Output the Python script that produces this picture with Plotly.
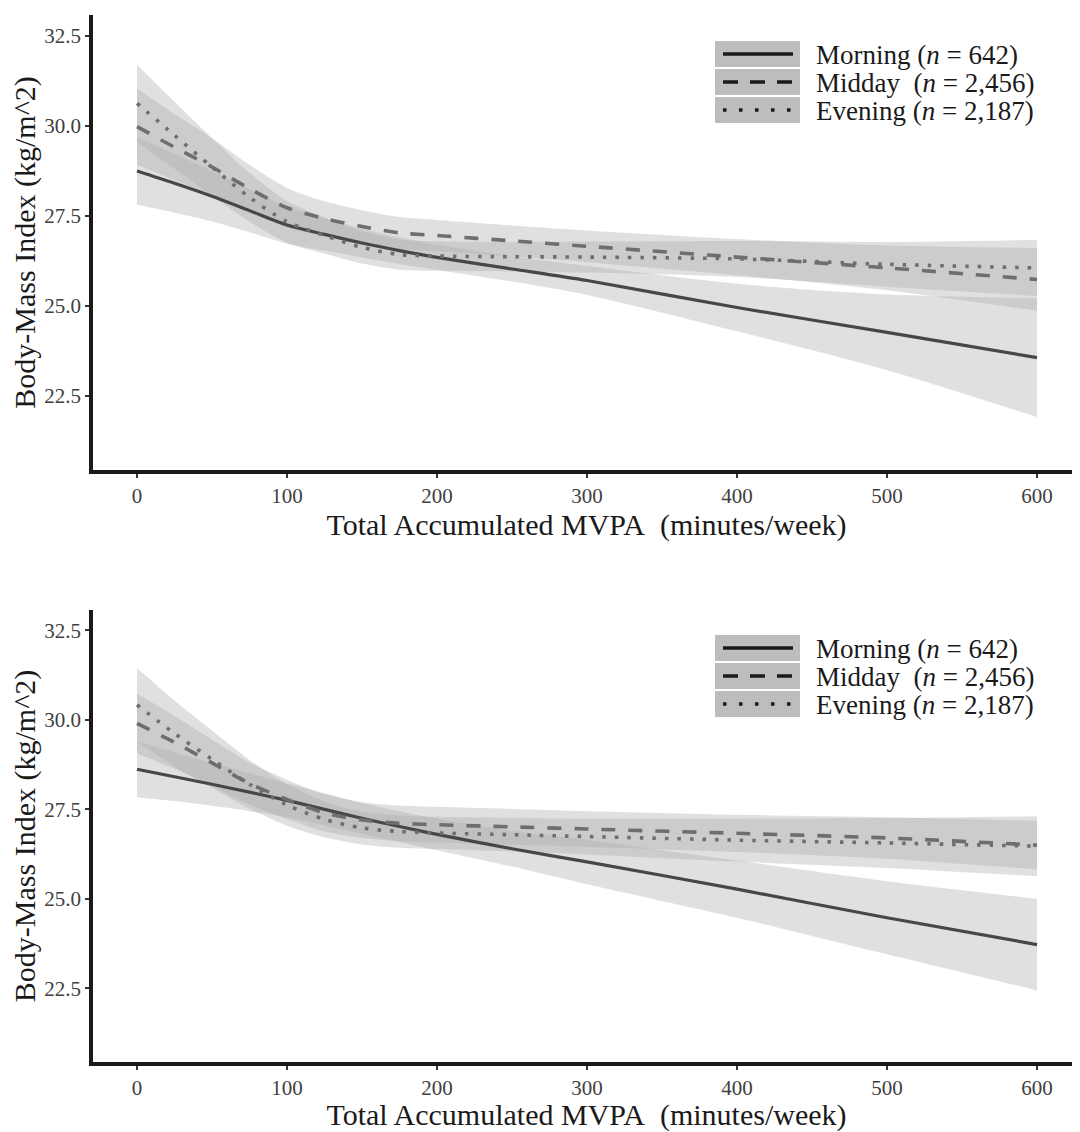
import plotly.graph_objects as go
from plotly.subplots import make_subplots

# ---------------- data ----------------
mvpa = [0, 25, 50, 75, 100, 125, 150, 175, 200, 250, 300, 400, 500, 600]

# Panel 1 (top)
top_morning = [28.74, 28.40, 28.04, 27.64, 27.24, 26.98, 26.74, 26.53, 26.34, 26.02, 25.70, 24.95, 24.26, 23.56]
top_morning_lo = [27.80, 27.58, 27.34, 27.04, 26.72, 26.53, 26.34, 26.16, 25.99, 25.67, 25.30, 24.29, 23.21, 21.91]
top_morning_hi = [29.68, 29.22, 28.74, 28.24, 27.76, 27.43, 27.14, 26.90, 26.69, 26.37, 26.10, 25.61, 25.31, 25.21]

top_midday = [29.97, 29.40, 28.85, 28.25, 27.72, 27.42, 27.20, 27.02, 26.95, 26.80, 26.65, 26.35, 26.05, 25.73]
top_midday_lo = [28.91, 28.48, 28.05, 27.59, 27.17, 26.94, 26.75, 26.58, 26.52, 26.37, 26.21, 25.85, 25.43, 24.86]
top_midday_hi = [31.03, 30.32, 29.65, 28.91, 28.27, 27.90, 27.65, 27.46, 27.38, 27.23, 27.09, 26.85, 26.67, 26.60]

top_evening = [30.62, 29.73, 28.85, 28.01, 27.33, 26.95, 26.62, 26.42, 26.38, 26.36, 26.35, 26.30, 26.15, 26.05]
top_evening_lo = [29.55, 28.80, 28.05, 27.33, 26.75, 26.45, 26.17, 26.00, 25.97, 25.95, 25.92, 25.80, 25.53, 25.27]
top_evening_hi = [31.69, 30.66, 29.65, 28.69, 27.91, 27.45, 27.07, 26.84, 26.79, 26.77, 26.78, 26.80, 26.77, 26.83]

# Panel 2 (bottom)
bot_morning = [28.62, 28.41, 28.20, 27.98, 27.75, 27.50, 27.25, 27.02, 26.80, 26.40, 26.03, 25.27, 24.47, 23.72]
bot_morning_lo = [27.84, 27.73, 27.60, 27.45, 27.27, 27.05, 26.82, 26.59, 26.36, 25.90, 25.41, 24.47, 23.45, 22.44]
bot_morning_hi = [29.40, 29.09, 28.80, 28.51, 28.23, 27.95, 27.68, 27.45, 27.24, 26.90, 26.65, 26.07, 25.49, 25.00]

bot_midday = [29.90, 29.37, 28.80, 28.22, 27.78, 27.40, 27.20, 27.11, 27.07, 27.01, 26.95, 26.83, 26.70, 26.50]
bot_midday_lo = [29.06, 28.63, 28.15, 27.63, 27.23, 26.88, 26.70, 26.61, 26.57, 26.51, 26.45, 26.31, 26.12, 25.82]
bot_midday_hi = [30.74, 30.11, 29.45, 28.81, 28.33, 27.92, 27.70, 27.61, 27.57, 27.51, 27.45, 27.35, 27.28, 27.18]

bot_evening = [30.42, 29.62, 28.90, 28.20, 27.62, 27.22, 26.98, 26.88, 26.84, 26.79, 26.74, 26.64, 26.56, 26.47]
bot_evening_lo = [29.39, 28.70, 28.10, 27.52, 27.04, 26.72, 26.52, 26.43, 26.39, 26.32, 26.24, 26.04, 25.86, 25.63]
bot_evening_hi = [31.45, 30.54, 29.70, 28.88, 28.20, 27.72, 27.44, 27.33, 27.29, 27.26, 27.24, 27.24, 27.26, 27.31]

group_labels = [
    "Morning (<i>n</i> = 642)",
    "Midday\u00a0 (<i>n</i> = 2,456)",
    "Evening (<i>n</i> = 2,187)",
]
x_ticks = [0, 100, 200, 300, 400, 500, 600]
y_ticks = [22.5, 25.0, 27.5, 30.0, 32.5]
x_title = "Total Accumulated MVPA\u00a0 (minutes/week)"
y_title = "Body-Mass Index (kg/m^2)"

# ---------------- styles ----------------
FONT = "Liberation Serif"
RIBBON = "rgba(170,170,170,0.37)"
line_styles = [
    dict(color="#474747", width=3.2, dash="solid"),
    dict(color="#6e6e6e", width=3.6, dash="14px,13px"),
    dict(color="#6e6e6e", width=3.6, dash="3.5px,9px"),
]
legend_dash = ["solid", "15px,12px", "3.5px,12.5px"]

OFF = 8  # page body margin
W, H = 1080 - OFF, 1132 - OFF
ML, MR, MT, MB = 93 - OFF, 0, 15 - OFF, 70
PW, PH = W - ML - MR, H - MT - MB

def pxx(px):
    return (px - OFF - ML) / PW

def pxy(py):
    return (H - MB - (py - OFF)) / PH

top_dom = [pxy(470), 1.0]
bot_dom = [0.0, pxy(610)]

fig = make_subplots(rows=2, cols=1)

panels = [
    (1, [(top_morning, top_morning_lo, top_morning_hi),
         (top_midday, top_midday_lo, top_midday_hi),
         (top_evening, top_evening_lo, top_evening_hi)]),
    (2, [(bot_morning, bot_morning_lo, bot_morning_hi),
         (bot_midday, bot_midday_lo, bot_midday_hi),
         (bot_evening, bot_evening_lo, bot_evening_hi)]),
]

for row, series in panels:
    for mean, lo, hi in series:
        fig.add_trace(go.Scatter(x=mvpa, y=lo, mode="lines", line=dict(width=0, shape="spline", smoothing=0.8),
                                 hoverinfo="skip", showlegend=False), row=row, col=1)
        fig.add_trace(go.Scatter(x=mvpa, y=hi, mode="lines", line=dict(width=0, shape="spline", smoothing=0.8),
                                 fill="tonexty", fillcolor=RIBBON, hoverinfo="skip", showlegend=False),
                      row=row, col=1)
    for i, (mean, lo, hi) in enumerate(series):
        st = line_styles[i]
        fig.add_trace(go.Scatter(x=mvpa, y=mean, mode="lines",
                                 line=dict(color=st["color"], width=st["width"], dash=st["dash"],
                                           shape="spline", smoothing=0.8),
                                 name=group_labels[i], showlegend=False), row=row, col=1)

axis_common = dict(showgrid=False, zeroline=False, showline=True, linewidth=3.5, linecolor="#1a1a1a",
                   ticks="outside", ticklen=4, tickwidth=2, tickcolor="#333333",
                   tickfont=dict(family=FONT, size=21, color="#404040"))

for r, dom in [(1, top_dom), (2, bot_dom)]:
    fig.update_xaxes(range=[-29.33, 628.67], tickvals=x_ticks, domain=[0, 1],
                     title=dict(text=x_title, font=dict(family=FONT, size=30, color="#1a1a1a"), standoff=6),
                     row=r, col=1, **axis_common)
    fig.update_yaxes(range=[20.44, 33.07], tickvals=y_ticks, tickformat=".1f", domain=dom,
                     title=dict(text=y_title, font=dict(family=FONT, size=30, color="#1a1a1a"), standoff=6),
                     row=r, col=1, **axis_common)

# manual legend keys (decoration)
shapes = []
annotations = []
for row_top in [0, 594]:
    centers = [54 + row_top, 82 + row_top, 110 + row_top]
    for i, cy in enumerate(centers):
        shapes.append(dict(type="rect", xref="paper", yref="paper",
                           x0=pxx(715), x1=pxx(800), y0=pxy(cy + 13), y1=pxy(cy - 13),
                           fillcolor="#bdbdbd", line=dict(width=0), layer="above"))
        shapes.append(dict(type="line", xref="paper", yref="paper",
                           x0=pxx(723), x1=pxx(793), y0=pxy(cy), y1=pxy(cy),
                           line=dict(color="#1a1a1a", width=3.5, dash=legend_dash[i]), layer="above"))
        annotations.append(dict(xref="paper", yref="paper", x=pxx(814), y=pxy(cy + 1),
                                xanchor="left", yanchor="middle", showarrow=False,
                                text=group_labels[i],
                                font=dict(family=FONT, size=27, color="#1a1a1a")))

fig.update_layout(
    width=W, height=H,
    margin=dict(l=ML, r=MR, t=MT, b=MB),
    paper_bgcolor="white", plot_bgcolor="white",
    showlegend=False,
    shapes=shapes, annotations=annotations,
    font=dict(family=FONT),
)

fig.write_html("out.html")
